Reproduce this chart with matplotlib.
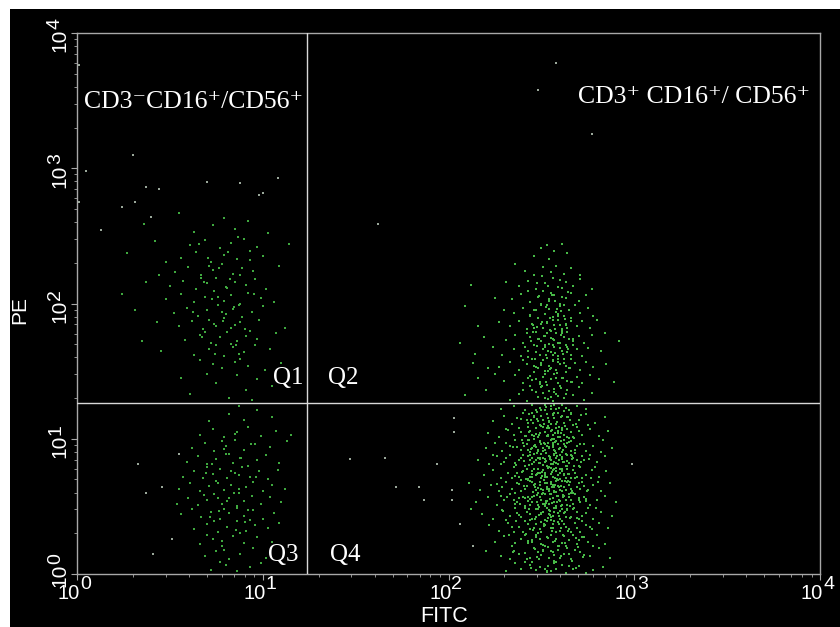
import numpy as np
import matplotlib
matplotlib.use("Agg")
import matplotlib.pyplot as plt
from matplotlib.patches import Rectangle
from matplotlib.transforms import offset_copy

plt.rcParams['font.family'] = ['Liberation Sans', 'DejaVu Sans']

# quadrant gates (FITC, PE)
gate_x = 17.3
gate_y = 18.4

decades = [0, 1, 2, 3, 4]
exp_labels = ['0', '1', '2', '3', '4']

# events, stored as (log10 FITC, log10 PE)
q1_pts = [
    (0.82,1.30),(0.91,1.36),(0.75,1.41),(0.97,1.44),(0.61,1.33),(0.86,1.47),(1.05,1.39),(0.70,1.48),(0.56,1.45),(0.94,1.29),
    (0.78,1.52),(0.85,1.57),(0.92,1.54),(0.66,1.58),(1.01,1.51),(0.73,1.55),(0.88,1.59),(1.10,1.56),
    (0.63,1.62),(0.71,1.66),(0.79,1.61),(0.84,1.68),(0.90,1.64),(0.96,1.69),(0.75,1.69),(0.87,1.63),(1.04,1.66),(0.45,1.65),
    (0.58,1.73),(0.66,1.77),(0.72,1.71),(0.77,1.75),(0.81,1.79),(0.86,1.72),(0.91,1.76),(0.97,1.74),(0.69,1.79),(0.83,1.70),(1.07,1.78),(0.35,1.72),
    (0.55,1.83),(0.62,1.87),(0.68,1.81),(0.74,1.85),(0.79,1.89),(0.83,1.82),(0.88,1.86),(0.93,1.80),(0.98,1.88),(0.71,1.88),(0.85,1.84),(1.12,1.82),(0.43,1.86),
    (0.52,1.93),(0.59,1.97),(0.65,1.91),(0.70,1.95),(0.76,1.99),(0.80,1.92),(0.84,1.96),(0.89,1.90),(0.94,1.94),(1.00,1.98),(0.78,1.94),(0.87,1.99),(0.31,1.95),
    (0.48,2.03),(0.56,2.07),(0.63,2.01),(0.69,2.05),(0.74,2.09),(0.79,2.02),(0.83,2.06),(0.88,2.00),(0.92,2.08),(0.99,2.04),(1.06,2.01),(0.76,2.05),(0.24,2.07),
    (0.50,2.13),(0.57,2.17),(0.64,2.11),(0.70,2.15),(0.75,2.19),(0.80,2.12),(0.85,2.16),(0.91,2.14),(0.96,2.18),(1.02,2.11),(0.67,2.19),(0.37,2.16),
    (0.53,2.23),(0.60,2.27),(0.67,2.21),(0.73,2.25),(0.78,2.29),(0.84,2.22),(0.89,2.26),(0.95,2.24),(1.09,2.28),(0.44,2.21),(0.71,2.28),
    (0.56,2.34),(0.64,2.38),(0.72,2.31),(0.79,2.36),(0.86,2.33),(0.93,2.39),(1.00,2.35),(0.48,2.31),(0.27,2.37),
    (0.61,2.43),(0.69,2.47),(0.77,2.41),(0.83,2.45),(0.90,2.48),(0.97,2.42),(0.42,2.46),(1.14,2.44),
    (0.63,2.53),(0.73,2.58),(0.79,2.63),(0.85,2.55),(0.92,2.61),(0.55,2.67),(1.03,2.52),(0.36,2.59),
    (0.743,1.627),(0.857,1.694),(0.673,1.756),(0.906,1.813),(0.784,1.867),(0.627,1.934),(0.843,1.976),(0.726,2.034),(0.954,2.067),(0.806,2.113),
    (0.683,2.162),(0.877,2.208),(0.763,2.263),(0.934,2.318),(0.813,2.383),(0.658,2.437),(0.867,2.493),(0.746,1.833),(0.823,2.183),(0.703,2.337),
]

q3_pts = [
    (0.72,0.03),(0.80,0.07),(0.86,0.02),(0.93,0.05),(0.77,0.09),(0.99,0.08),
    (0.69,0.13),(0.75,0.17),(0.82,0.11),(0.88,0.15),(0.95,0.19),(0.79,0.18),(1.02,0.12),(0.41,0.15),
    (0.66,0.22),(0.73,0.26),(0.78,0.21),(0.84,0.28),(0.90,0.23),(0.97,0.27),(0.70,0.29),(1.05,0.24),(0.51,0.26),
    (0.63,0.33),(0.70,0.37),(0.76,0.31),(0.81,0.35),(0.86,0.39),(0.91,0.32),(0.96,0.36),(1.03,0.34),(0.74,0.39),(0.88,0.30),(1.09,0.38),
    (0.56,0.44),(0.62,0.48),(0.67,0.42),(0.72,0.46),(0.77,0.41),(0.82,0.45),(0.86,0.49),(0.90,0.43),(0.95,0.47),(1.00,0.41),(1.06,0.45),(0.79,0.48),(0.93,0.40),
    (0.54,0.52),(0.60,0.56),(0.65,0.51),(0.70,0.55),(0.74,0.59),(0.78,0.52),(0.82,0.56),(0.86,0.50),(0.90,0.54),(0.94,0.58),(0.99,0.52),(1.04,0.57),(1.10,0.53),(0.76,0.56),
    (0.55,0.63),(0.61,0.67),(0.66,0.61),(0.71,0.65),(0.75,0.69),(0.79,0.62),(0.83,0.66),(0.87,0.60),(0.91,0.64),(0.95,0.68),(1.00,0.61),(1.05,0.66),(1.12,0.63),(0.37,0.60),(0.46,0.64),
    (0.57,0.72),(0.63,0.76),(0.68,0.71),(0.73,0.74),(0.77,0.78),(0.81,0.71),(0.85,0.75),(0.89,0.79),(0.93,0.72),(0.98,0.76),(1.03,0.70),(1.08,0.77),(0.70,0.79),(0.87,0.73),
    (0.59,0.83),(0.65,0.87),(0.70,0.81),(0.75,0.85),(0.80,0.89),(0.84,0.82),(0.88,0.86),(0.92,0.80),(0.97,0.84),(1.02,0.88),(1.09,0.82),(0.55,0.89),(0.33,0.81),
    (0.62,0.93),(0.69,0.97),(0.74,0.91),(0.80,0.95),(0.85,0.99),(0.90,0.92),(0.96,0.96),(1.04,0.94),(1.13,0.98),(0.78,0.98),
    (0.66,1.03),(0.73,1.07),(0.79,1.01),(0.86,1.05),(0.92,1.09),(0.99,1.02),(1.07,1.06),(1.15,1.03),
    (0.71,1.13),(0.82,1.18),(0.90,1.14),(0.97,1.21),(1.05,1.16),(0.87,1.24),
    (0.783,0.243),(0.856,0.326),(0.714,0.418),(0.923,0.476),(0.806,0.537),(0.683,0.583),(0.874,0.627),(0.757,0.673),(0.963,0.716),(0.827,0.764),
    (0.726,0.812),(0.884,0.857),(0.793,0.924),(0.936,0.963),(0.853,1.036),(0.764,0.463),(0.847,0.596),(0.694,0.746),(0.906,0.383),(0.816,0.887),
]

q2_pts = [
    (2.33,1.29),(2.38,1.33),(2.42,1.28),(2.45,1.36),(2.48,1.31),(2.50,1.38),(2.52,1.30),(2.54,1.35),(2.56,1.28),(2.58,1.33),(2.60,1.39),(2.62,1.30),(2.64,1.36),
    (2.67,1.32),(2.70,1.38),(2.73,1.29),(2.77,1.34),(2.44,1.39),(2.51,1.34),(2.57,1.37),(2.63,1.33),(2.40,1.36),(2.55,1.31),(2.20,1.36),(2.09,1.32),
    (2.30,1.43),(2.36,1.47),(2.40,1.41),(2.43,1.45),(2.46,1.49),(2.49,1.42),(2.51,1.46),(2.53,1.40),(2.55,1.44),(2.57,1.48),(2.59,1.41),(2.61,1.45),(2.63,1.49),
    (2.66,1.42),(2.69,1.46),(2.72,1.41),(2.76,1.47),(2.81,1.44),(2.47,1.44),(2.52,1.48),(2.58,1.45),(2.64,1.43),(2.16,1.45),(2.25,1.48),(2.89,1.42),
    (2.27,1.53),(2.33,1.57),(2.38,1.51),(2.42,1.55),(2.45,1.59),(2.48,1.52),(2.50,1.56),(2.52,1.50),(2.54,1.54),(2.56,1.58),(2.58,1.51),(2.60,1.55),(2.62,1.59),
    (2.65,1.52),(2.68,1.56),(2.71,1.51),(2.74,1.57),(2.78,1.53),(2.46,1.54),(2.51,1.58),(2.55,1.52),(2.59,1.57),(2.63,1.54),(2.40,1.58),(2.66,1.59),(2.13,1.56),(2.21,1.52),(2.85,1.55),
    (2.29,1.62),(2.35,1.66),(2.39,1.61),(2.43,1.65),(2.46,1.69),(2.49,1.62),(2.51,1.66),(2.53,1.60),(2.55,1.64),(2.57,1.68),(2.59,1.61),(2.61,1.65),(2.63,1.69),
    (2.66,1.62),(2.69,1.66),(2.72,1.61),(2.75,1.67),(2.47,1.64),(2.52,1.68),(2.56,1.62),(2.60,1.67),(2.64,1.64),(2.41,1.68),(2.67,1.69),(2.24,1.68),(2.14,1.63),(2.82,1.65),(2.92,1.72),
    (2.31,1.73),(2.36,1.77),(2.40,1.71),(2.44,1.75),(2.47,1.79),(2.50,1.72),(2.52,1.76),(2.54,1.70),(2.56,1.74),(2.58,1.78),(2.60,1.71),(2.62,1.75),(2.64,1.79),
    (2.67,1.72),(2.70,1.76),(2.73,1.71),(2.77,1.77),(2.48,1.74),(2.53,1.78),(2.57,1.73),(2.61,1.78),(2.65,1.74),(2.42,1.78),(2.19,1.75),(2.06,1.71),(2.84,1.78),
    (2.33,1.83),(2.38,1.87),(2.42,1.81),(2.45,1.85),(2.48,1.89),(2.51,1.82),(2.53,1.86),(2.55,1.80),(2.57,1.84),(2.59,1.88),(2.61,1.81),(2.63,1.85),(2.66,1.89),
    (2.69,1.83),(2.72,1.87),(2.76,1.82),(2.50,1.85),(2.56,1.88),(2.60,1.84),(2.64,1.82),(2.27,1.86),(2.16,1.83),(2.46,1.82),(2.80,1.88),
    (2.35,1.93),(2.40,1.97),(2.44,1.91),(2.47,1.95),(2.50,1.99),(2.52,1.92),(2.54,1.96),(2.56,1.90),(2.58,1.94),(2.60,1.98),(2.62,1.91),(2.65,1.95),(2.68,1.99),
    (2.71,1.93),(2.75,1.97),(2.53,1.99),(2.59,1.92),(2.30,1.95),(2.09,1.98),(2.78,1.91),
    (2.34,2.03),(2.39,2.07),(2.44,2.01),(2.48,2.05),(2.51,2.09),(2.54,2.02),(2.57,2.06),(2.60,2.00),(2.63,2.04),(2.66,2.08),(2.70,2.02),(2.74,2.06),(2.55,2.08),(2.61,2.05),(2.25,2.04),(2.43,2.09),
    (2.38,2.13),(2.43,2.17),(2.47,2.11),(2.52,2.15),(2.56,2.19),(2.59,2.12),(2.63,2.16),(2.67,2.13),(2.71,2.18),(2.31,2.16),(2.12,2.14),(2.77,2.11),
    (2.41,2.24),(2.46,2.21),(2.51,2.27),(2.55,2.23),(2.58,2.28),(2.62,2.22),(2.66,2.26),(2.36,2.29),(2.71,2.21),
    (2.46,2.35),(2.50,2.41),(2.54,2.33),(2.57,2.39),(2.61,2.44),(2.64,2.37),(2.53,2.43),
    (2.537,1.293),(2.473,1.347),(2.608,1.372),(2.526,1.423),(2.441,1.466),(2.583,1.487),(2.653,1.523),(2.497,1.546),(2.564,1.574),(2.427,1.607),
    (2.616,1.628),(2.538,1.652),(2.476,1.683),(2.592,1.707),(2.668,1.736),(2.514,1.757),(2.453,1.786),(2.573,1.812),(2.634,1.838),(2.503,1.863),
    (2.547,1.893),(2.438,1.917),(2.606,1.946),(2.527,1.973),(2.574,2.018),(2.487,2.052),(2.643,2.083),(2.536,2.127),(2.598,2.173),(2.506,2.206),
    (2.588,1.313),(2.506,1.388),(2.663,1.416),(2.452,1.432),(2.547,1.517),(2.624,1.563),(2.463,1.587),(2.572,1.636),(2.518,1.694),(2.636,1.682),
    (2.442,1.722),(2.553,1.743),(2.612,1.797),(2.478,1.826),(2.532,1.857),(2.658,1.873),(2.587,1.906),(2.461,1.952),(2.624,1.987),(2.542,2.034),
    (2.566,1.342),(2.492,1.407),(2.617,1.452),(2.538,1.503),(2.471,1.532),(2.589,1.593),(2.524,1.617),(2.646,1.663),(2.561,1.693),(2.487,1.738),
    (2.603,1.768),(2.544,1.804),(2.457,1.843),(2.627,1.882),(2.518,1.924),(2.583,1.963),(2.496,1.997),(2.558,2.063),(2.612,2.112),(2.478,2.152),
]

q4_pts = [
    (2.31,0.02),(2.44,0.07),(2.52,0.04),(2.58,0.09),(2.63,0.01),(2.70,0.06),(2.78,0.03),(2.36,0.08),(2.49,0.05),(2.55,0.02),
    (2.61,0.07),(2.67,0.04),(2.41,0.09),(2.74,0.01),(2.83,0.05),(2.47,0.03),(2.57,0.08),(2.65,0.06),(2.39,0.04),(2.53,0.02),
    (2.28,0.13),(2.35,0.17),(2.42,0.11),(2.46,0.19),(2.50,0.14),(2.54,0.12),(2.59,0.18),(2.62,0.15),(2.66,0.11),(2.71,0.16),(2.76,0.13),(2.81,0.19),
    (2.38,0.15),(2.44,0.12),(2.51,0.17),(2.56,0.16),(2.60,0.12),(2.68,0.18),(2.73,0.14),(2.33,0.11),(2.48,0.16),(2.57,0.14),(2.64,0.19),(2.87,0.12),(2.20,0.17),
    (2.25,0.24),(2.30,0.28),(2.34,0.21),(2.39,0.26),(2.43,0.23),(2.47,0.29),(2.50,0.22),(2.53,0.27),(2.56,0.24),(2.59,0.21),(2.62,0.28),(2.65,0.25),(2.69,0.22),
    (2.72,0.27),(2.75,0.24),(2.80,0.29),(2.84,0.22),(2.41,0.29),(2.45,0.25),(2.52,0.21),(2.58,0.26),(2.61,0.23),(2.67,0.29),(2.36,0.23),(2.49,0.26),(2.55,0.29),
    (2.63,0.21),(2.70,0.25),(2.78,0.21),
    (2.22,0.36),(2.27,0.32),(2.32,0.38),(2.35,0.31),(2.38,0.35),(2.41,0.39),(2.44,0.33),(2.47,0.37),(2.50,0.31),(2.52,0.36),(2.55,0.34),(2.57,0.39),(2.60,0.32),
    (2.62,0.37),(2.65,0.33),(2.68,0.38),(2.71,0.31),(2.74,0.36),(2.77,0.33),(2.81,0.38),(2.86,0.34),(2.40,0.31),(2.46,0.34),(2.53,0.39),(2.58,0.31),(2.63,0.35),
    (2.69,0.34),(2.43,0.37),(2.49,0.33),(2.56,0.37),(2.61,0.39),(2.66,0.31),(2.34,0.35),(2.72,0.39),
    (2.18,0.44),(2.24,0.41),(2.29,0.47),(2.33,0.43),(2.36,0.49),(2.39,0.42),(2.42,0.46),(2.45,0.41),(2.48,0.48),(2.50,0.44),(2.52,0.40),(2.54,0.47),(2.56,0.43),
    (2.58,0.49),(2.60,0.41),(2.62,0.45),(2.64,0.48),(2.66,0.42),(2.69,0.46),(2.72,0.43),(2.75,0.49),(2.78,0.41),(2.82,0.46),(2.88,0.43),(2.41,0.49),(2.44,0.44),
    (2.47,0.42),(2.51,0.46),(2.55,0.42),(2.59,0.45),(2.63,0.42),(2.67,0.48),(2.70,0.41),(2.37,0.45),(2.53,0.49),(2.57,0.46),(2.61,0.48),(2.31,0.40),(2.74,0.45),(2.12,0.48),
    (2.15,0.53),(2.21,0.57),(2.26,0.51),(2.30,0.55),(2.33,0.59),(2.36,0.52),(2.38,0.56),(2.41,0.50),(2.43,0.54),(2.46,0.58),(2.48,0.51),(2.50,0.55),(2.52,0.59),
    (2.54,0.52),(2.56,0.56),(2.58,0.50),(2.60,0.54),(2.62,0.58),(2.64,0.51),(2.66,0.55),(2.68,0.59),(2.71,0.53),(2.73,0.57),(2.76,0.51),(2.80,0.55),(2.84,0.58),
    (2.90,0.53),(2.40,0.57),(2.45,0.53),(2.49,0.57),(2.53,0.54),(2.57,0.53),(2.59,0.58),(2.63,0.55),(2.67,0.52),(2.70,0.56),(2.35,0.55),(2.44,0.51),(2.51,0.52),
    (2.55,0.59),(2.61,0.51),(2.65,0.57),(2.74,0.54),(2.28,0.58),
    (2.17,0.62),(2.23,0.66),(2.27,0.61),(2.31,0.68),(2.34,0.63),(2.37,0.67),(2.39,0.61),(2.42,0.65),(2.44,0.69),(2.47,0.62),(2.49,0.66),(2.51,0.60),(2.53,0.64),
    (2.55,0.68),(2.57,0.61),(2.59,0.65),(2.61,0.69),(2.63,0.62),(2.65,0.66),(2.67,0.60),(2.69,0.64),(2.72,0.68),(2.75,0.62),(2.78,0.66),(2.82,0.61),(2.87,0.67),
    (2.41,0.63),(2.46,0.66),(2.50,0.63),(2.54,0.61),(2.56,0.66),(2.58,0.69),(2.62,0.64),(2.66,0.63),(2.70,0.67),(2.36,0.60),(2.45,0.68),(2.52,0.67),(2.60,0.62),
    (2.64,0.68),(2.73,0.65),(2.29,0.64),(2.48,0.60),(2.57,0.64),(2.11,0.67),
    (2.19,0.73),(2.24,0.77),(2.28,0.71),(2.32,0.75),(2.35,0.79),(2.38,0.72),(2.40,0.76),(2.43,0.70),(2.45,0.74),(2.48,0.78),(2.50,0.71),(2.52,0.75),(2.54,0.79),
    (2.56,0.72),(2.58,0.76),(2.60,0.70),(2.62,0.74),(2.64,0.78),(2.66,0.71),(2.68,0.75),(2.71,0.79),(2.74,0.73),(2.77,0.77),(2.81,0.72),(2.85,0.76),(2.42,0.78),
    (2.47,0.73),(2.51,0.77),(2.55,0.74),(2.59,0.73),(2.61,0.78),(2.65,0.74),(2.69,0.72),(2.37,0.75),(2.44,0.72),(2.53,0.72),(2.57,0.78),(2.63,0.71),(2.67,0.77),
    (2.72,0.71),(2.34,0.71),(2.49,0.75),(2.56,0.77),(2.79,0.79),
    (2.16,0.84),(2.22,0.81),(2.26,0.87),(2.30,0.83),(2.33,0.88),(2.36,0.82),(2.39,0.86),(2.41,0.80),(2.44,0.84),(2.46,0.89),(2.49,0.82),(2.51,0.86),(2.53,0.80),
    (2.55,0.84),(2.57,0.88),(2.59,0.81),(2.61,0.85),(2.63,0.89),(2.65,0.82),(2.67,0.86),(2.70,0.80),(2.73,0.84),(2.76,0.88),(2.80,0.83),(2.84,0.87),(2.40,0.88),
    (2.45,0.81),(2.48,0.86),(2.52,0.83),(2.56,0.81),(2.58,0.86),(2.62,0.83),(2.66,0.88),(2.69,0.84),(2.38,0.84),(2.43,0.87),(2.50,0.89),(2.54,0.87),(2.60,0.88),
    (2.64,0.80),(2.72,0.87),(2.31,0.86),(2.47,0.84),(2.57,0.83),
    (2.20,0.93),(2.25,0.97),(2.29,0.91),(2.33,0.95),(2.36,0.99),(2.39,0.92),(2.42,0.96),(2.44,0.90),(2.47,0.94),(2.49,0.98),(2.51,0.91),(2.53,0.95),(2.55,0.99),
    (2.57,0.92),(2.59,0.96),(2.61,0.90),(2.63,0.94),(2.66,0.98),(2.68,0.92),(2.71,0.96),(2.74,0.91),(2.78,0.95),(2.83,0.99),(2.40,0.97),(2.45,0.93),(2.50,0.96),
    (2.54,0.93),(2.56,0.97),(2.60,0.93),(2.64,0.97),(2.69,0.95),(2.37,0.94),(2.43,0.99),(2.52,0.92),(2.58,0.98),(2.62,0.99),(2.66,0.91),(2.31,0.97),(2.48,0.91),(2.88,0.93),
    (2.21,1.04),(2.27,1.01),(2.31,1.07),(2.35,1.03),(2.38,1.08),(2.41,1.02),(2.44,1.06),(2.46,1.00),(2.49,1.04),(2.51,1.09),(2.53,1.02),(2.55,1.06),(2.57,1.00),
    (2.59,1.04),(2.61,1.08),(2.64,1.01),(2.66,1.05),(2.69,1.09),(2.72,1.03),(2.76,1.07),(2.81,1.02),(2.86,1.06),(2.43,1.09),(2.48,1.01),(2.52,1.05),(2.56,1.03),
    (2.58,1.08),(2.62,1.03),(2.67,1.01),(2.39,1.05),(2.45,1.03),(2.54,1.08),(2.60,1.01),(2.70,1.06),
    (2.24,1.13),(2.30,1.17),(2.34,1.11),(2.37,1.15),(2.40,1.19),(2.43,1.12),(2.46,1.16),(2.49,1.10),(2.51,1.14),(2.53,1.18),(2.55,1.11),(2.57,1.15),(2.59,1.19),
    (2.62,1.12),(2.64,1.16),(2.67,1.10),(2.70,1.14),(2.74,1.18),(2.79,1.12),(2.84,1.16),(2.45,1.19),(2.50,1.17),(2.54,1.13),(2.58,1.11),(2.61,1.17),(2.66,1.19),
    (2.42,1.14),(2.48,1.13),(2.56,1.18),
    (2.28,1.22),(2.35,1.24),(2.41,1.21),(2.45,1.25),(2.49,1.23),(2.52,1.21),(2.55,1.24),(2.58,1.22),(2.61,1.25),(2.65,1.21),(2.69,1.24),(2.74,1.22),(2.47,1.21),
    (2.57,1.25),(2.63,1.23),
    (2.537,0.062),(2.605,0.133),(2.468,0.186),(2.574,0.247),(2.644,0.318),(2.512,0.356),(2.437,0.402),(2.593,0.428),(2.548,0.463),(2.676,0.487),
    (2.386,0.514),(2.523,0.538),(2.617,0.566),(2.474,0.583),(2.566,0.607),(2.708,0.626),(2.409,0.648),(2.532,0.672),(2.589,0.694),(2.452,0.716),
    (2.641,0.738),(2.503,0.756),(2.577,0.782),(2.366,0.804),(2.618,0.826),(2.494,0.847),(2.547,0.868),(2.683,0.893),(2.427,0.914),(2.565,0.937),
    (2.521,0.962),(2.604,0.984),(2.458,1.018),(2.572,1.043),(2.639,1.072),(2.497,1.097),(2.543,1.126),(2.603,1.158),(2.436,1.183),(2.526,1.234),
    (2.486,0.108),(2.552,0.173),(2.627,0.226),(2.418,0.293),(2.561,0.337),(2.498,0.382),(2.656,0.417),(2.543,0.446),(2.472,0.477),(2.603,0.502),
    (2.527,0.527),(2.439,0.552),(2.586,0.578),(2.661,0.597),(2.508,0.618),(2.557,0.643),(2.463,0.663),(2.628,0.687),(2.584,0.706),(2.517,0.733),
    (2.398,0.752),(2.672,0.768),(2.539,0.793),(2.487,0.818),(2.596,0.842),(2.448,0.861),(2.636,0.883),(2.573,0.906),(2.509,0.928),(2.466,0.952),
    (2.651,0.973),(2.556,0.997),(2.417,1.024),(2.592,1.058),(2.528,1.083),(2.687,1.112),(2.476,1.143),(2.564,1.172),(2.624,1.206),(2.393,0.692),
    (2.578,0.036),(2.413,0.154),(2.508,0.213),(2.684,0.268),(2.456,0.326),(2.597,0.373),(2.534,0.413),(2.377,0.437),(2.626,0.458),(2.489,0.493),
    (2.558,0.524),(2.701,0.544),(2.428,0.572),(2.544,0.592),(2.612,0.613),(2.483,0.636),(2.571,0.657),(2.653,0.678),(2.419,0.703),(2.506,0.722),
    (2.598,0.747),(2.459,0.773),(2.632,0.797),(2.552,0.812),(2.404,0.836),(2.518,0.853),(2.667,0.874),(2.581,0.897),(2.444,0.923),(2.626,0.946),
    (2.537,0.967),(2.394,0.988),(2.587,1.012),(2.473,1.036),(2.613,1.064),(2.536,1.092),(2.453,1.118),(2.654,1.137),(2.569,1.193),(2.498,1.214),
    (2.443,0.046),(2.663,0.097),(2.536,0.196),(2.472,0.276),(2.608,0.343),(2.553,0.396),(2.486,0.436),(2.637,0.472),(2.518,0.506),(2.582,0.533),
    (2.413,0.562),(2.647,0.588),(2.542,0.627),(2.457,0.604),(2.594,0.646),(2.377,0.668),(2.516,0.693),(2.682,0.713),(2.476,0.742),(2.613,0.763),
    (2.553,0.787),(2.434,0.808),(2.524,0.833),(2.667,0.852),(2.586,0.876),(2.478,0.898),(2.407,0.943),(2.616,0.916),(2.561,0.954),(2.492,0.978),
    (2.678,1.003),(2.538,1.027),(2.434,1.053),(2.596,1.088),(2.516,1.107),(2.646,1.163),(2.462,1.167),(2.553,1.218),(2.738,0.556),(2.716,0.826),
    (2.327,0.286),(2.764,0.347),(2.296,0.463),(2.793,0.487),(2.314,0.572),(2.746,0.613),(2.357,0.726),(2.768,0.708),(2.283,0.816),(2.757,0.847),
    (2.346,0.937),(2.729,0.963),(2.318,1.066),(2.752,1.104),(2.364,0.392),(2.732,0.273),(2.347,0.164),(2.726,0.124),(2.263,0.664),(2.806,0.677),
    (2.392,1.148),(2.713,1.178),(2.426,0.246),(2.697,0.196),(2.238,0.883),(2.821,0.902),(2.368,0.536),(2.694,0.416),(2.452,0.088),(2.688,0.047),
    (2.512,0.372),(2.587,0.384),(2.463,0.408),(2.634,0.423),(2.548,0.438),(2.497,0.452),(2.602,0.466),(2.431,0.479),(2.568,0.491),(2.653,0.506),
    (2.522,0.517),(2.476,0.531),(2.593,0.546),(2.544,0.557),(2.447,0.569),(2.618,0.581),(2.503,0.594),(2.579,0.603),(2.664,0.617),(2.531,0.629),
    (2.468,0.641),(2.606,0.653),(2.552,0.664),(2.493,0.677),(2.641,0.684),(2.427,0.697),(2.573,0.709),(2.518,0.719),(2.624,0.731),(2.482,0.744),
    (2.559,0.753),(2.447,0.764),(2.598,0.776),(2.534,0.787),(2.673,0.796),(2.507,0.807),(2.581,0.819),(2.462,0.829),(2.638,0.838),(2.546,0.849),
    (2.492,0.858),(2.611,0.866),(2.437,0.877),(2.567,0.886),(2.524,0.898),(2.657,0.907),(2.483,0.917),(2.596,0.927),(2.541,0.936),(2.458,0.947),
    (2.623,0.958),(2.514,0.969),(2.572,0.979),(2.436,0.993),(2.647,1.008),(2.533,1.017),(2.488,1.031),(2.603,1.046),(2.557,1.061),(2.469,1.077),
    (2.626,1.091),(2.512,1.106),(2.583,1.124),(2.446,1.137),(2.538,1.153),(2.661,1.184),(2.474,1.197),(2.594,1.229),(2.521,1.252),(2.558,0.318),
    (2.483,0.304),(2.617,0.287),(2.536,0.263),(2.452,0.234),(2.594,0.207),(2.511,0.176),(2.648,0.146),(2.478,0.124),(2.567,0.094),(2.532,0.018),
]

stray_pts = [
    (2.58,3.78),(2.48,3.58),(2.77,3.25),(0.30,3.10),(0.05,2.98),(0.01,3.76),(0.70,2.90),(0.88,2.89),(1.08,2.93),(0.37,2.86),
    (0.44,2.85),(0.98,2.80),(1.00,2.82),(0.31,2.75),(0.24,2.71),(0.13,2.54),(0.40,2.64),(0.01,2.75),(1.62,2.59),
    (1.47,0.85),(1.66,0.86),(1.72,0.64),(1.84,0.64),(1.87,0.55),(1.94,0.81),(2.02,0.62),(2.03,1.15),(2.06,0.37),(2.13,0.21),
    (2.02,0.55),(2.03,1.05),(2.99,0.81),(0.33,0.81),(0.37,0.60),(0.46,0.64),(0.41,0.15),(0.51,0.26),(0.55,0.89),
]

fig = plt.figure(figsize=(8.4, 6.27), dpi=100, facecolor='white')
# black plot area, leaving thin white strips at the top and left
fig.patches.append(Rectangle((10 / 840, 0), 1, 1 - 9 / 627, transform=fig.transFigure,
                             facecolor='black', edgecolor='none', zorder=-10))
ax = fig.add_axes([77 / 840, 1 - 574 / 627, 743 / 840, 541 / 627])
ax.set_facecolor('black')

for pts, col in [(q1_pts, '#3fa83f'), (q3_pts, '#3fa83f'), (q2_pts, '#47b847'),
                 (q4_pts, '#47b847'), (stray_pts, '#9aa89a')]:
    arr = np.power(10.0, np.array(pts))
    ax.scatter(arr[:, 0], arr[:, 1], s=3.5, marker='s', c=col, linewidths=0, zorder=2)

ax.set_xscale('log')
ax.set_yscale('log')
ax.set_xlim(1, 1e4)
ax.set_ylim(1, 1e4)

ax.axvline(gate_x, color='#d8d8d8', lw=1, zorder=3)
ax.axhline(gate_y, color='#d8d8d8', lw=1, zorder=3)

for sp in ax.spines.values():
    sp.set_color('#a8a8a8')
    sp.set_linewidth(1)

ticks = [10.0 ** d for d in decades]
ax.set_xticks(ticks, [''] * len(ticks))
ax.set_yticks(ticks, [''] * len(ticks))
ax.tick_params(which='both', direction='out', colors='#a8a8a8')
ax.tick_params(which='major', length=4, width=0.8)
ax.tick_params(which='minor', length=2.5, width=0.6)

# decade labels drawn as "10" plus a raised exponent of nearly the same size
lab_kw = dict(color='white', clip_on=False)
xt = ax.get_xaxis_transform()
yt = ax.get_yaxis_transform()
for t, e in zip(ticks, exp_labels):
    ax.text(t, 0, '10', transform=offset_copy(xt, fig, x=3, y=-25, units='dots'),
            ha='right', va='baseline', fontsize=14.5, **lab_kw)
    ax.text(t, 0, e, transform=offset_copy(xt, fig, x=3, y=-15, units='dots'),
            ha='left', va='baseline', fontsize=14, **lab_kw)
    # the lowest PE label is nudged up so it clears the FITC 10^0 label
    dy = 10 if t == ticks[0] else 4
    ax.text(0, t, '10', transform=offset_copy(yt, fig, x=-12, y=dy, units='dots'),
            rotation=90, rotation_mode='anchor', ha='right', va='baseline', fontsize=15, **lab_kw)
    ax.text(0, t, e, transform=offset_copy(yt, fig, x=-17, y=dy, units='dots'),
            rotation=90, rotation_mode='anchor', ha='left', va='baseline', fontsize=14, **lab_kw)

ax.set_xlabel('FITC', color='white', fontsize=15.5)
ax.xaxis.label.set_va('baseline')
ax.xaxis.set_label_coords(0.494, -(622 - 574) / 541)
ax.set_ylabel('PE', color='white', fontsize=15)
ax.yaxis.label.set_va('baseline')
ax.yaxis.set_label_coords(-(77 - 25) / 743, (574 - 310) / 541)

serif = ['Liberation Serif', 'DejaVu Serif']
ax.text(0.0094, 0.861, 'CD3\u207bCD16\u207a/CD56\u207a', transform=ax.transAxes,
        color='white', fontsize=18.5, family=serif, va='baseline')
ax.text(0.674, 0.871, 'CD3\u207a CD16\u207a/ CD56\u207a', transform=ax.transAxes,
        color='white', fontsize=18.5, family=serif, va='baseline')
for lab, xx, yy in [('Q1', 0.264, 0.351), ('Q2', 0.338, 0.351),
                    ('Q3', 0.257, 0.024), ('Q4', 0.340, 0.024)]:
    ax.text(xx, yy, lab, transform=ax.transAxes, color='white', fontsize=18,
            family=serif, va='baseline')

fig.savefig('out.png', dpi=100, facecolor=fig.get_facecolor())
